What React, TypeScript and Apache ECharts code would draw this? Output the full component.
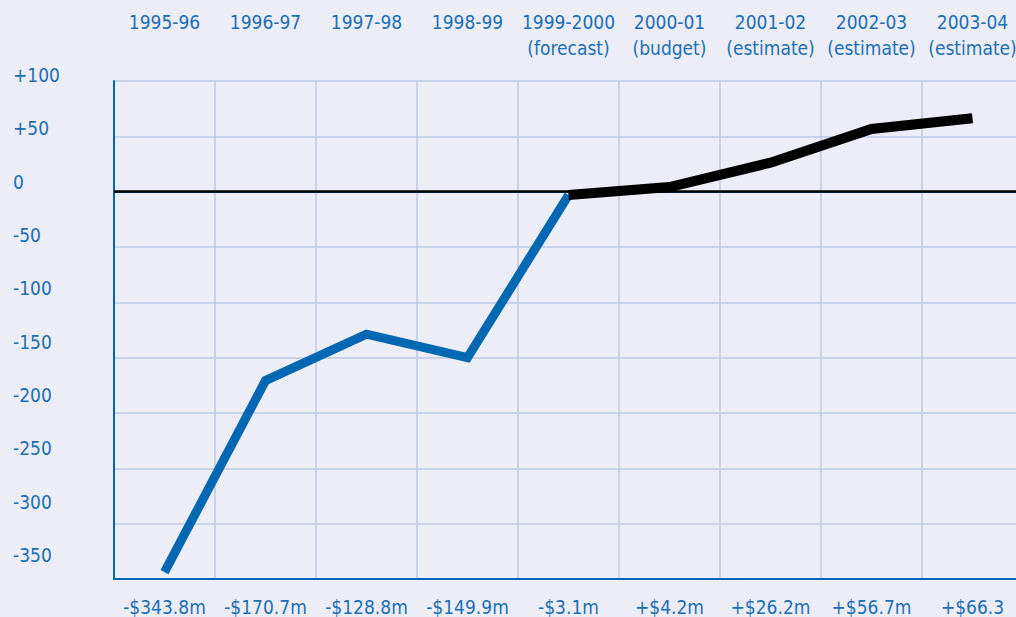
import React, { useEffect, useRef } from "react";
import * as echarts from "echarts";

const years = ["1995-96", "1996-97", "1997-98", "1998-99", "1999-2000", "2000-01", "2001-02", "2002-03", "2003-04"];
const notes = ["", "", "", "", "(forecast)", "(budget)", "(estimate)", "(estimate)", "(estimate)"];
const values = [-343.8, -170.7, -128.8, -149.9, -3.1, 4.2, 26.2, 56.7, 66.3];
const valueLabels = ["-$343.8m", "-$170.7m", "-$128.8m", "-$149.9m", "-$3.1m", "+$4.2m", "+$26.2m", "+$56.7m", "+$66.3"];
const firstProjectedIndex = 4;
const yMin = -350;
const yMax = 100;
const yStep = 50;

const BLUE_TEXT = "#1b6fb6";
const BLUE_LINE = "#0068b3";
const GRID = "#bfc8e4";
const BG = "#ecedf6";
const FONT = "'DejaVu Sans Condensed', 'Liberation Sans Narrow', sans-serif";

export default function App() {
  const ref = useRef<HTMLDivElement>(null);
  useEffect(() => {
    if (!ref.current) return;
    const chart = echarts.init(ref.current, null, { renderer: "svg" });
    const actual = values.map((v, i) => (i <= firstProjectedIndex ? v : null));
    const projected = values.map((v, i) => (i >= firstProjectedIndex ? v : null));
    const topLabels = years.map((y, i) => (notes[i] ? `${y}\n${notes[i]}` : y));
    const labelStyle = { color: BLUE_TEXT, fontFamily: FONT, fontSize: 19, lineHeight: 26 };
    chart.setOption({
      animation: false,
      backgroundColor: BG,
      grid: [
        { left: 114, right: 0, top: 81, bottom: 38, outerBoundsMode: "none", containLabel: false },
        { left: 114, right: 0, top: 75, bottom: 62, outerBoundsMode: "none", containLabel: false },
      ],
      xAxis: [
        {
          type: "category",
          gridIndex: 0,
          position: "top",
          data: topLabels,
          boundaryGap: true,
          axisLine: { show: true, lineStyle: { color: BLUE_LINE, width: 2 } },
          axisTick: { show: false },
          axisLabel: { ...labelStyle, interval: 0, margin: 72, verticalAlign: "top" },
          splitLine: { show: true, lineStyle: { color: GRID, width: 1.5 } },
        },
        {
          type: "category",
          gridIndex: 0,
          position: "bottom",
          data: valueLabels,
          boundaryGap: true,
          axisLine: { show: true, lineStyle: { color: BLUE_LINE, width: 2 } },
          axisTick: { show: false },
          axisLabel: { ...labelStyle, lineHeight: 19, interval: 0, margin: 18, verticalAlign: "top" },
          splitLine: { show: false },
        },
        {
          type: "category",
          gridIndex: 1,
          data: years,
          show: false,
        },
      ],
      yAxis: [
        {
          type: "value",
          gridIndex: 0,
          min: yMin,
          max: yMax,
          interval: yStep,
          axisLine: { show: true, lineStyle: { color: BLUE_LINE, width: 2 } },
          axisTick: { show: false },
          axisLabel: { show: false },
          splitLine: { show: true, lineStyle: { color: GRID, width: 1.5 } },
        },
        {
          type: "value",
          gridIndex: 1,
          min: yMin,
          max: yMax,
          interval: yStep,
          axisLine: { show: false },
          axisTick: { show: false },
          splitLine: { show: false },
          axisLabel: {
            ...labelStyle,
            align: "left",
            margin: 101,
            formatter: (v: number) => (v > 0 ? `+${v}` : `${v}`),
          },
        },
      ],
      series: [
        {
          type: "line",
          xAxisIndex: 0,
          yAxisIndex: 0,
          data: actual,
          symbol: "none",
          lineStyle: { color: BLUE_LINE, width: 9, cap: "butt", join: "miter" },
          z: 3,
          markLine: {
            silent: true,
            symbol: ["none", "none"],
            label: { show: false },
            lineStyle: { color: "#000", width: 2.5, type: "solid" },
            data: [{ yAxis: 0 }],
            z: 2,
          },
        },
        {
          type: "line",
          xAxisIndex: 0,
          yAxisIndex: 0,
          data: projected,
          symbol: "none",
          lineStyle: { color: "#000", width: 10, cap: "butt", join: "miter" },
          z: 4,
        },
      ],
    });
    return () => chart.dispose();
  }, []);
  return (
    <div style={{ position: "fixed", left: 0, top: 0, width: 1016, height: 617, overflow: "hidden", background: BG }}>
      <div ref={ref} style={{ width: 1023, height: 617 }} />
    </div>
  );
}
